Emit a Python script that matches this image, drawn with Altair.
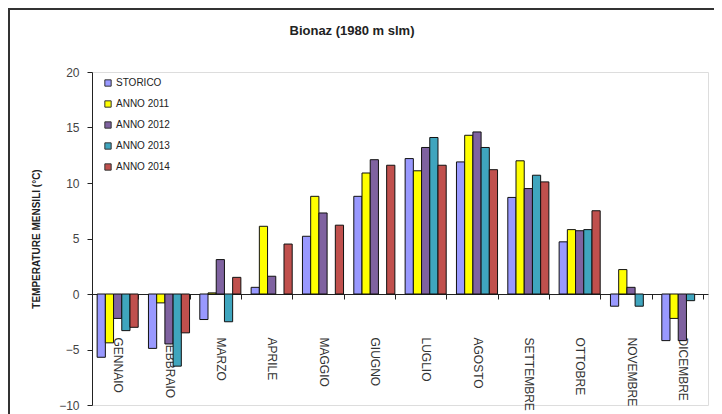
import altair as alt
import pandas as pd

title_text = "Bionaz (1980 m slm)"
months = ["GENNAIO", "FEBBRAIO", "MARZO", "APRILE", "MAGGIO", "GIUGNO",
          "LUGLIO", "AGOSTO", "SETTEMBRE", "OTTOBRE", "NOVEMBRE", "DICEMBRE"]
series = ["STORICO", "ANNO 2011", "ANNO 2012", "ANNO 2013", "ANNO 2014"]
colors = ["#9999FF", "#FFFF00", "#7F62A0", "#3FA5BE", "#C0504D"]

storico = [-5.7, -4.9, -2.3, 0.6, 5.2, 8.8, 12.2, 11.9, 8.7, 4.7, -1.1, -4.2]
anno_2011 = [-4.4, -0.8, 0.1, 6.1, 8.8, 10.9, 11.1, 14.3, 12.0, 5.8, 2.2, -2.2]
anno_2012 = [-2.2, -4.5, 3.1, 1.6, 7.3, 12.1, 13.2, 14.6, 9.5, 5.7, 0.6, -4.2]
anno_2013 = [-3.3, -6.5, -2.5, None, None, None, 14.1, 13.2, 10.7, 5.8, -1.1, -0.6]
anno_2014 = [-3.0, -3.5, 1.5, 4.5, 6.2, 11.6, 11.6, 11.2, 10.1, 7.5, None, None]

rows = []
for name, vals in zip(series, [storico, anno_2011, anno_2012, anno_2013, anno_2014]):
    for m, v in zip(months, vals):
        if v is not None:
            rows.append({"mese": m, "serie": name, "valore": v})
df = pd.DataFrame(rows)

W, H = 616, 333
font = "Liberation Sans"

bars = alt.Chart(df).mark_bar(stroke="#111111", strokeWidth=1).encode(
    x=alt.X("mese:N", sort=months,
            scale=alt.Scale(paddingInner=0.2, paddingOuter=0.1),
            axis=alt.Axis(title=None, labelAngle=90, offset=-(H * 10 / 30),
                          tickBand="extent", domainColor="#222222",
                          tickColor="#222222", tickSize=5, labelPadding=38,
                          labelFont=font, labelFontSize=12, labelColor="#333333",
                          labelBaseline="middle", labelAlign="left")),
    xOffset=alt.XOffset("serie:N", sort=series, scale=alt.Scale(domain=series)),
    y=alt.Y("valore:Q", scale=alt.Scale(domain=[-10, 20], nice=False),
            axis=alt.Axis(title="TEMPERATURE MENSILI (°C)", values=[-10, -5, 0, 5, 10, 15, 20],
                          grid=False, domainColor="#222222", tickColor="#222222",
                          tickSize=5, labelFont=font, labelFontSize=12,
                          labelColor="#444444", labelPadding=8,
                          titleFont=font, titleFontSize=10, titleFontWeight="bold",
                          titleColor="#222222", titlePadding=17)),
    color=alt.Color("serie:N", sort=series,
                    scale=alt.Scale(domain=series, range=colors),
                    legend=alt.Legend(title=None, orient="none", legendX=11, legendY=6,
                                      symbolType="square", symbolSize=40,
                                      symbolStrokeColor="#333333", symbolStrokeWidth=1,
                                      labelFont=font, labelFontSize=10,
                                      labelColor="#222222", rowPadding=9,
                                      labelOffset=3)),
)

title = alt.Chart(pd.DataFrame({"t": [title_text]})).mark_text(
    font=font, fontSize=13, fontWeight="bold", color="#222222",
    align="center", baseline="middle", clip=False
).encode(text="t:N", x=alt.value(260), y=alt.value(-41))

frame_top = alt.Chart(pd.DataFrame({"a": [0]})).mark_rule(
    color="#333333", strokeWidth=2, clip=False
).encode(x=alt.value(-84), x2=alt.value(W + 6), y=alt.value(-63))

frame_left = alt.Chart(pd.DataFrame({"a": [0]})).mark_rule(
    color="#333333", strokeWidth=2, clip=False
).encode(x=alt.value(-83), y=alt.value(-64), y2=alt.value(H + 20))

chart = alt.layer(bars, title, frame_top, frame_left).properties(
    width=W, height=H,
    autosize=alt.AutoSizeParams(type="none"),
    padding={"left": 84, "top": 64, "right": 6, "bottom": 20},
).configure_view(stroke=None).configure(background="white")

chart.save("out.html", embed_options={"renderer": "svg", "actions": False})
